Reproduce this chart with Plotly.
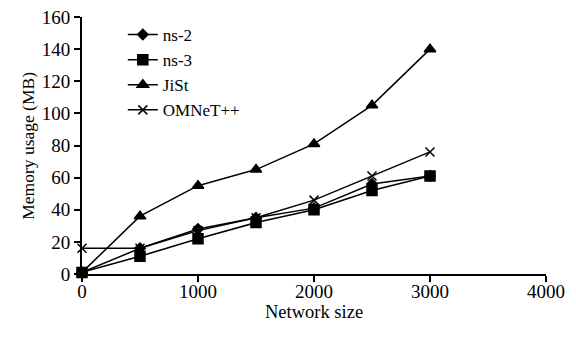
import plotly.graph_objects as go

network_size = [0, 500, 1000, 1500, 2000, 2500, 3000]
ns2 = [1, 16, 28, 35, 41, 56, 61]
ns3 = [1, 11, 22, 32, 40, 52, 61]
jist = [1, 36, 55, 65, 81, 105, 140]
omnet = [16, 16, 27, 35, 46, 61, 76]

series = [
    ("ns-2", ns2, "diamond", 8),
    ("ns-3", ns3, "square", 10),
    ("JiSt", jist, "triangle-up", 10),
    ("OMNeT++", omnet, "x-thin-open", 9),
]

fig = go.Figure()
for name, vals, sym, size in series:
    fig.add_trace(go.Scatter(
        x=network_size, y=vals, name=name, mode="lines+markers",
        line=dict(color="black", width=1.5),
        marker=dict(symbol=sym, size=size, color="black",
                    line=dict(color="black", width=1.5)),
        cliponaxis=False,
    ))

fam = "Liberation Serif, Times New Roman, serif"
tickfont = dict(family=fam, size=19, color="black")
fig.update_layout(
    width=576, height=337,
    margin=dict(l=82, r=30, t=17, b=63, autoexpand=False),
    paper_bgcolor="white", plot_bgcolor="white",
    font=tickfont,
    showlegend=True,
    legend=dict(x=0.088, y=1.0, xanchor="left", yanchor="top",
                bgcolor="rgba(0,0,0,0)", font=dict(family=fam, size=17, color="black"),
                tracegroupgap=0),
    annotations=[
        dict(text="Network size", xref="paper", yref="paper", x=0.5, y=-0.146,
             xanchor="center", yanchor="middle", showarrow=False,
             font=dict(family=fam, size=18.5, color="black")),
        dict(text="Memory usage (MB)", xref="paper", yref="paper", x=-0.118, y=0.5,
             xanchor="center", yanchor="middle", showarrow=False, textangle=-90,
             font=dict(family=fam, size=17.5, color="black")),
    ],
)
fig.update_xaxes(
    range=[0, 4000], tickvals=[0, 1000, 2000, 3000, 4000],
    showline=True, linecolor="black", linewidth=2,
    ticks="outside", ticklen=6, tickwidth=2, tickcolor="black",
    tickfont=tickfont, automargin=False, ticklabelstandoff=-7,
    showgrid=False, zeroline=False,
)
fig.update_yaxes(
    range=[0, 160], tickvals=list(range(0, 161, 20)),
    showline=True, linecolor="black", linewidth=2,
    ticks="outside", ticklen=6, tickwidth=2, tickcolor="black",
    tickfont=tickfont, automargin=False,
    showgrid=False, zeroline=False,
)
fig.write_html("out.html")
